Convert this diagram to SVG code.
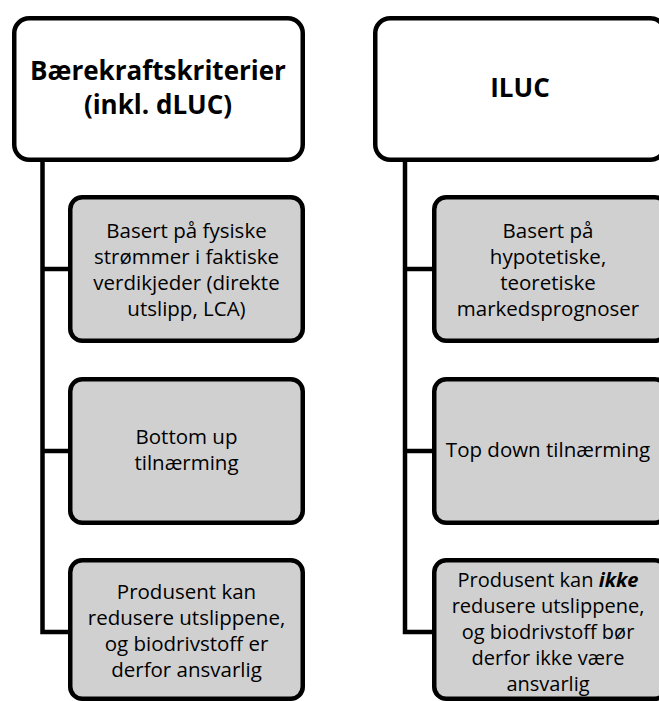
<svg xmlns="http://www.w3.org/2000/svg" width="659" height="701" viewBox="0 0 659 701">
<style>
.top{fill:#fff;stroke:#000;stroke-width:4.5}
.child{fill:#d0d0d0;stroke:#000;stroke-width:4.5}
.conn{fill:none;stroke:#000;stroke-width:4.5}
.title{font-family:"Open Sans","Noto Sans",sans-serif;font-weight:bold;font-size:26px;fill:#000;text-anchor:middle}
.body{font-family:"Open Sans","Noto Sans",sans-serif;font-size:20.5px;fill:#000;text-anchor:middle}
.sm{font-size:20px}
</style>
<rect width="659" height="701" fill="#fff"/>
<g id="connectors">
<path class="conn" d="M42.5,160 V632 H70 M42.5,269 H70 M42.5,451 H70"/>
<path class="conn" d="M405,160 V632 H434 M405,269 H434 M405,451 H434"/>
</g>
<g id="baerekraft">
<rect class="top" x="14.25" y="18.25" width="288.5" height="141.5" rx="15"/>
<text class="title" x="158" y="80">Bærekraftskriterier</text>
<text class="title" x="158" y="114">(inkl. dLUC)</text>
</g>
<g id="iluc">
<rect class="top" x="375.25" y="18.25" width="290" height="141.5" rx="15"/>
<text class="title" x="520" y="97">ILUC</text>
</g>
<g id="left1">
<rect class="child" x="70.25" y="197.25" width="232.5" height="143.5" rx="12"/>
<text class="body" x="186.5" y="238">Basert på fysiske</text>
<text class="body" x="186.5" y="264">strømmer i faktiske</text>
<text class="body" x="186.5" y="290">verdikjeder (direkte</text>
<text class="body" x="186.5" y="316">utslipp, LCA)</text>
</g>
<g id="left2">
<rect class="child" x="70.25" y="379.25" width="232.5" height="143.5" rx="12"/>
<text class="body" x="186.5" y="444">Bottom up</text>
<text class="body" x="186.5" y="470">tilnærming</text>
</g>
<g id="left3">
<rect class="child" x="70.25" y="560.25" width="232.5" height="138.5" rx="12"/>
<text class="body" x="186.5" y="599">Produsent kan</text>
<text class="body" x="186.5" y="625">redusere utslippene,</text>
<text class="body" x="186.5" y="651">og biodrivstoff er</text>
<text class="body" x="186.5" y="677">derfor ansvarlig</text>
</g>
<g id="right1">
<rect class="child" x="434.25" y="197.25" width="232.5" height="143.5" rx="12"/>
<text class="body" x="548" y="238">Basert på</text>
<text class="body" x="548" y="264">hypotetiske,</text>
<text class="body" x="548" y="290">teoretiske</text>
<text class="body" x="548" y="316">markedsprognoser</text>
</g>
<g id="right2">
<rect class="child" x="434.25" y="379.25" width="232.5" height="143.5" rx="12"/>
<text class="body" x="548" y="457">Top down tilnærming</text>
</g>
<g id="right3">
<rect class="child" x="434.25" y="560.25" width="232.5" height="138.5" rx="12"/>
<text class="body sm" x="548" y="587">Produsent kan <tspan font-weight="bold" font-style="italic">ikke</tspan></text>
<text class="body sm" x="548" y="613">redusere utslippene,</text>
<text class="body sm" x="548" y="639">og biodrivstoff bør</text>
<text class="body sm" x="548" y="665">derfor ikke være</text>
<text class="body sm" x="548" y="691">ansvarlig</text>
</g>
</svg>
